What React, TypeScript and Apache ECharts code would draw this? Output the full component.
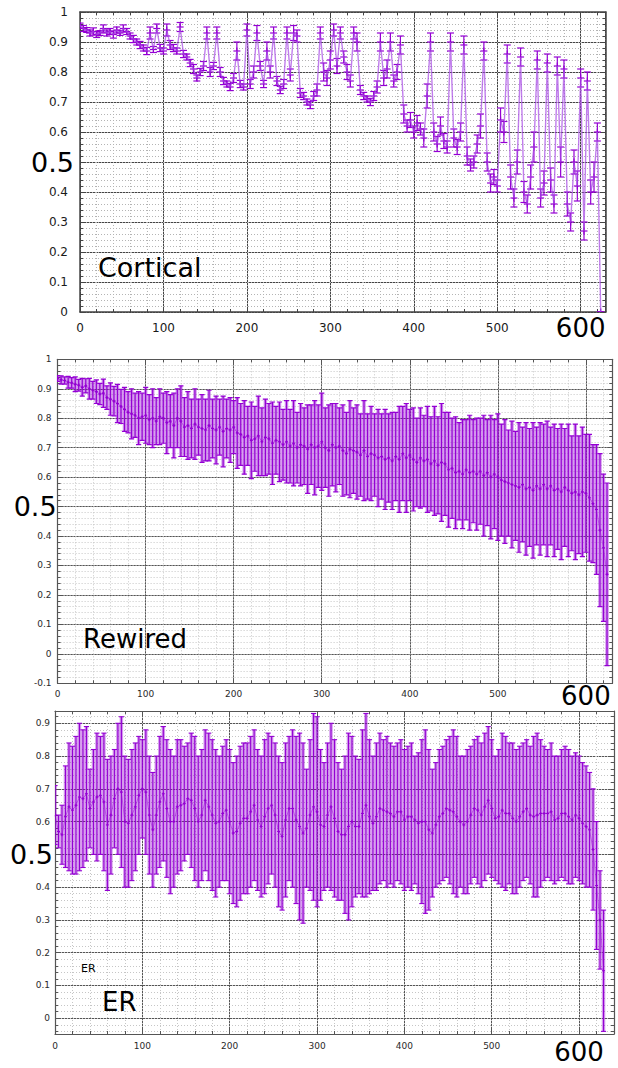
import { useEffect, useRef } from "react";
import * as echarts from "echarts";

// spacing between successive samples on the x axis
const STEP = 4;

// Cortical network: mean and error at x = 0, 4, 8, ...
const corticalMean = [
  0.955, 0.945, 0.94, 0.93, 0.935, 0.925, 0.93, 0.945, 0.93, 0.935,
  0.925, 0.94, 0.93, 0.945, 0.935, 0.92, 0.91, 0.9, 0.89, 0.88,
  0.87, 0.93, 0.875, 0.945, 0.88, 0.87, 0.94, 0.89, 0.88, 0.87,
  0.95, 0.86, 0.85, 0.83, 0.81, 0.78, 0.8, 0.82, 0.93, 0.8,
  0.82, 0.93, 0.8, 0.77, 0.76, 0.75, 0.78, 0.87, 0.76, 0.75,
  0.94, 0.76, 0.8, 0.93, 0.82, 0.76, 0.87, 0.8, 0.93, 0.77,
  0.74, 0.76, 0.93, 0.79, 0.93, 0.92, 0.73, 0.72, 0.7, 0.69,
  0.72, 0.74, 0.93, 0.8, 0.78, 0.84, 0.94, 0.82, 0.93, 0.85,
  0.8, 0.77, 0.93, 0.9, 0.74, 0.72, 0.71, 0.7, 0.72, 0.75,
  0.9, 0.78, 0.81, 0.9, 0.77, 0.8, 0.89, 0.66, 0.62, 0.64,
  0.6, 0.63, 0.61, 0.58, 0.72, 0.9, 0.6, 0.56, 0.62, 0.57,
  0.55, 0.9, 0.58, 0.55, 0.6, 0.89, 0.52, 0.49, 0.5, 0.56,
  0.62, 0.87, 0.5, 0.43, 0.45, 0.42, 0.64, 0.6, 0.86, 0.45,
  0.38, 0.5, 0.85, 0.4, 0.36, 0.45, 0.55, 0.84, 0.38, 0.43,
  0.83, 0.44, 0.36, 0.82, 0.5, 0.81, 0.36, 0.3, 0.5, 0.42,
  0.78, 0.27, 0.77, 0.4, 0.45, 0.6, 0.0,
];
const corticalErr = [
  0.008, 0.01, 0.008, 0.01, 0.012, 0.01, 0.008, 0.012, 0.01, 0.01,
  0.012, 0.01, 0.008, 0.012, 0.01, 0.01, 0.012, 0.01, 0.012, 0.01,
  0.012, 0.02, 0.01, 0.015, 0.012, 0.01, 0.02, 0.015, 0.012, 0.01,
  0.015, 0.012, 0.01, 0.012, 0.015, 0.01, 0.012, 0.015, 0.02, 0.015,
  0.012, 0.02, 0.015, 0.012, 0.01, 0.012, 0.015, 0.03, 0.012, 0.01,
  0.02, 0.015, 0.02, 0.025, 0.015, 0.012, 0.03, 0.02, 0.02, 0.015,
  0.012, 0.015, 0.02, 0.02, 0.025, 0.02, 0.015, 0.012, 0.01, 0.012,
  0.015, 0.02, 0.02, 0.03, 0.025, 0.03, 0.02, 0.025, 0.02, 0.02,
  0.025, 0.02, 0.02, 0.03, 0.015, 0.012, 0.01, 0.012, 0.015, 0.02,
  0.03, 0.025, 0.03, 0.03, 0.02, 0.025, 0.03, 0.03, 0.02, 0.025,
  0.02, 0.025, 0.02, 0.03, 0.04, 0.03, 0.03, 0.025, 0.03, 0.025,
  0.02, 0.03, 0.03, 0.025, 0.03, 0.03, 0.03, 0.02, 0.02, 0.03,
  0.04, 0.03, 0.03, 0.03, 0.025, 0.02, 0.04, 0.035, 0.03, 0.04,
  0.03, 0.04, 0.03, 0.035, 0.03, 0.04, 0.05, 0.03, 0.03, 0.04,
  0.03, 0.04, 0.03, 0.03, 0.05, 0.03, 0.04, 0.03, 0.04, 0.05,
  0.03, 0.03, 0.03, 0.04, 0.05, 0.03, 0.0,
];

// Rewired network
const rewiredMean = [
  0.935, 0.93, 0.928, 0.922, 0.92, 0.915, 0.912, 0.905, 0.91, 0.9,
  0.895, 0.89, 0.882, 0.885, 0.87, 0.865, 0.858, 0.85, 0.84, 0.83,
  0.82, 0.815, 0.81, 0.8, 0.805, 0.81, 0.795, 0.8, 0.79, 0.805,
  0.8, 0.785, 0.79, 0.775, 0.8, 0.79, 0.77, 0.775, 0.765, 0.78,
  0.77, 0.765, 0.76, 0.775, 0.765, 0.76, 0.77, 0.755, 0.765, 0.76,
  0.77, 0.75, 0.745, 0.735, 0.74, 0.725, 0.73, 0.74, 0.72, 0.735,
  0.73, 0.715, 0.725, 0.72, 0.71, 0.72, 0.705, 0.715, 0.7, 0.71,
  0.705, 0.695, 0.71, 0.7, 0.705, 0.72, 0.7, 0.69, 0.71, 0.7,
  0.705, 0.69, 0.68, 0.695, 0.69, 0.685, 0.675, 0.69, 0.67, 0.68,
  0.675, 0.665, 0.67, 0.66, 0.665, 0.655, 0.67, 0.66, 0.68, 0.665,
  0.675, 0.66, 0.65, 0.665, 0.655, 0.66, 0.645, 0.655, 0.64, 0.65,
  0.645, 0.625, 0.63, 0.615, 0.62, 0.61, 0.625, 0.615, 0.62, 0.61,
  0.62, 0.605, 0.615, 0.6, 0.61, 0.6, 0.59, 0.585, 0.58, 0.575,
  0.57, 0.565, 0.575, 0.56, 0.565, 0.555, 0.57, 0.56, 0.575, 0.56,
  0.57, 0.555, 0.56, 0.55, 0.565, 0.555, 0.545, 0.55, 0.54, 0.55,
  0.545, 0.53, 0.51, 0.49, 0.42, 0.36, 0.27,
];
const rewiredErr = [
  0.01, 0.014, 0.012, 0.02, 0.018, 0.025, 0.02, 0.03, 0.024, 0.035,
  0.03, 0.04, 0.036, 0.048, 0.04, 0.055, 0.05, 0.065, 0.058, 0.075,
  0.07, 0.085, 0.075, 0.09, 0.08, 0.095, 0.085, 0.1, 0.08, 0.095,
  0.085, 0.105, 0.09, 0.11, 0.1, 0.12, 0.1, 0.115, 0.1, 0.12,
  0.095, 0.115, 0.105, 0.12, 0.1, 0.115, 0.095, 0.12, 0.1, 0.11,
  0.09, 0.12, 0.105, 0.125, 0.1, 0.13, 0.11, 0.135, 0.115, 0.13,
  0.12, 0.14, 0.115, 0.135, 0.12, 0.14, 0.125, 0.145, 0.12, 0.14,
  0.13, 0.15, 0.135, 0.16, 0.14, 0.165, 0.135, 0.155, 0.14, 0.15,
  0.13, 0.155, 0.14, 0.165, 0.145, 0.16, 0.14, 0.17, 0.145, 0.16,
  0.14, 0.165, 0.145, 0.17, 0.15, 0.165, 0.15, 0.18, 0.16, 0.185,
  0.155, 0.175, 0.15, 0.17, 0.155, 0.18, 0.16, 0.185, 0.165, 0.2,
  0.175, 0.195, 0.17, 0.19, 0.165, 0.185, 0.17, 0.195, 0.175, 0.19,
  0.18, 0.205, 0.18, 0.21, 0.185, 0.215, 0.19, 0.21, 0.18, 0.215,
  0.185, 0.22, 0.195, 0.225, 0.2, 0.23, 0.2, 0.225, 0.205, 0.23,
  0.2, 0.225, 0.205, 0.23, 0.2, 0.225, 0.195, 0.23, 0.2, 0.22,
  0.2, 0.215, 0.2, 0.22, 0.26, 0.25, 0.31,
];

// Erdős–Rényi network
const erMean = [
  0.62, 0.57, 0.56, 0.615, 0.645, 0.635, 0.65, 0.675, 0.67, 0.685,
  0.64, 0.66, 0.675, 0.68, 0.66, 0.59, 0.62, 0.67, 0.7, 0.69,
  0.6, 0.595, 0.62, 0.645, 0.68, 0.7, 0.69, 0.62, 0.575, 0.62,
  0.66, 0.685, 0.64, 0.6, 0.6, 0.645, 0.65, 0.655, 0.67, 0.665,
  0.64, 0.6, 0.62, 0.665, 0.645, 0.62, 0.595, 0.6, 0.625, 0.635,
  0.6, 0.565, 0.57, 0.595, 0.61, 0.61, 0.63, 0.65, 0.605, 0.585,
  0.615, 0.64, 0.65, 0.62, 0.57, 0.555, 0.605, 0.64, 0.64, 0.605,
  0.585, 0.565, 0.58, 0.62, 0.645, 0.63, 0.59, 0.585, 0.62, 0.645,
  0.61, 0.57, 0.56, 0.56, 0.585, 0.6, 0.585, 0.585, 0.625, 0.65,
  0.615, 0.595, 0.615, 0.64, 0.635, 0.63, 0.625, 0.615, 0.63, 0.63,
  0.605, 0.615, 0.615, 0.605, 0.595, 0.6, 0.6, 0.575, 0.565, 0.59,
  0.615, 0.625, 0.64, 0.635, 0.63, 0.615, 0.6, 0.59, 0.6, 0.62,
  0.64, 0.635, 0.62, 0.645, 0.665, 0.64, 0.61, 0.615, 0.635, 0.625,
  0.625, 0.61, 0.6, 0.615, 0.63, 0.64, 0.62, 0.615, 0.62, 0.625,
  0.625, 0.625, 0.63, 0.605, 0.61, 0.625, 0.625, 0.615, 0.605, 0.62,
  0.61, 0.595, 0.585, 0.575, 0.515, 0.405, 0.3, 0.145,
];
const erErr = [
  0.09, 0.05, 0.09, 0.155, 0.195, 0.195, 0.21, 0.225, 0.21, 0.205,
  0.12, 0.16, 0.195, 0.18, 0.21, 0.2, 0.18, 0.15, 0.2, 0.23,
  0.2, 0.195, 0.2, 0.195, 0.18, 0.15, 0.19, 0.18, 0.175, 0.18,
  0.2, 0.205, 0.21, 0.22, 0.2, 0.205, 0.2, 0.175, 0.17, 0.205,
  0.22, 0.2, 0.2, 0.215, 0.225, 0.23, 0.225, 0.2, 0.205, 0.215,
  0.22, 0.215, 0.23, 0.235, 0.23, 0.23, 0.23, 0.23, 0.215, 0.215,
  0.235, 0.23, 0.21, 0.22, 0.23, 0.225, 0.235, 0.22, 0.24, 0.255,
  0.285, 0.275, 0.18, 0.23, 0.285, 0.29, 0.23, 0.195, 0.22, 0.255,
  0.24, 0.21, 0.2, 0.24, 0.285, 0.26, 0.215, 0.205, 0.255, 0.28,
  0.235, 0.205, 0.225, 0.23, 0.215, 0.23, 0.215, 0.215, 0.21, 0.22,
  0.215, 0.215, 0.225, 0.195, 0.215, 0.25, 0.28, 0.245, 0.195, 0.19,
  0.205, 0.205, 0.21, 0.225, 0.25, 0.245, 0.2, 0.21, 0.22, 0.21,
  0.21, 0.225, 0.22, 0.225, 0.225, 0.21, 0.19, 0.205, 0.235, 0.235,
  0.215, 0.23, 0.22, 0.215, 0.21, 0.21, 0.21, 0.245, 0.25, 0.225,
  0.205, 0.195, 0.21, 0.195, 0.19, 0.195, 0.205, 0.205, 0.195, 0.19,
  0.19, 0.185, 0.185, 0.175, 0.185, 0.195, 0.15, 0.185,
];

const panelTitles = ["Cortical", "Rewired", "ER"];
const BIG_X_TICK = 600;
const BIG_Y_TICK = 0.5;

const FONT = "DejaVu Sans";
const PURPLE = "#9400d3";

type Panel = {
  mean: number[];
  err: number[];
  grid: { left: number; top: number; width: number; height: number };
  xMax: number;
  yMin: number;
  yMax: number;
  yNice: boolean; // let the scale pick round ticks (min is not on a tick)
  fontSize: number;
  color: string;
  yMargin: number;
  yPad: number;
  xMargin: number;
  xPad: number;
  frame: string;
  frameW: number;
  major: string;
  minor: string;
  fill: string | null;
  cap: number;
  mark: number;
  barW: number;
  line: string;
  lineW: number;
};

const panels: Panel[] = [
  {
    mean: corticalMean, err: corticalErr,
    grid: { left: 80, top: 12, width: 525.7, height: 300 },
    xMax: 630, yMin: 0, yMax: 1, yNice: false,
    fontSize: 12, color: "#1a1a1a", yMargin: 6, yPad: 6, xMargin: 3, xPad: 7,
    frame: "#444", frameW: 1.5, major: "#444", minor: "#b4b4b4",
    fill: null, cap: 3.5, mark: 3.5, barW: 1.2,
    line: "rgba(165,70,228,0.7)", lineW: 1.4,
  },
  {
    mean: rewiredMean, err: rewiredErr,
    grid: { left: 57.6, top: 359.3, width: 554.7, height: 324 },
    xMax: 630, yMin: -0.1, yMax: 1, yNice: false,
    fontSize: 9, color: "#2a2a2a", yMargin: 1, yPad: 5, xMargin: 0, xPad: 6,
    frame: "#555", frameW: 1.2, major: "#555", minor: "#c6c6c6",
    fill: "rgba(148,0,211,0.42)", cap: 2.6, mark: 1.5, barW: 1.2,
    line: "rgba(148,0,211,0.6)", lineW: 0.8,
  },
  {
    mean: erMean, err: erErr,
    grid: { left: 55, top: 711, width: 559, height: 323 },
    xMax: 640, yMin: -0.048, yMax: 0.9375, yNice: true,
    fontSize: 9, color: "#2a2a2a", yMargin: 2, yPad: 3, xMargin: 5, xPad: 2,
    frame: "#555", frameW: 1.2, major: "#555", minor: "#c6c6c6",
    fill: "rgba(148,0,211,0.4)", cap: 2.6, mark: 1.5, barW: 1.1,
    line: "rgba(148,0,211,0.6)", lineW: 0.8,
  },
];

const fmt = (v: number) => String(Math.round(v * 100) / 100);

function axesFor(g: number, p: Panel) {
  const tickStyle = { color: p.frame, width: 1 };
  const xLabel = {
    margin: p.xMargin,
    showMaxLabel: false,
    formatter: (v: number) =>
      Math.abs(v - BIG_X_TICK) < 1e-6 ? `{big|${fmt(v)}}` : `{n|${fmt(v)}}`,
    rich: {
      big: { fontSize: 26, fontFamily: FONT, color: "#000" },
      n: { fontSize: p.fontSize, fontFamily: FONT, color: p.color, padding: [p.xPad, 0, 0, 0] },
    },
  };
  const yLabel = {
    margin: p.yMargin,
    showMinLabel: !p.yNice,
    showMaxLabel: !p.yNice,
    formatter: (v: number) =>
      Math.abs(v - BIG_Y_TICK) < 1e-6 ? `{big|${fmt(v)}}` : `{n|${fmt(v)}}`,
    rich: {
      big: { fontSize: 27, fontFamily: FONT, color: "#000" },
      n: { fontSize: p.fontSize, fontFamily: FONT, color: p.color, padding: [0, p.yPad, 0, 0] },
    },
  };
  const xBase = { type: "value", gridIndex: g, min: 0, max: p.xMax };
  const yBase = { type: "value", gridIndex: g, min: p.yMin, max: p.yMax };
  const yMajorTicks = p.yNice ? { splitNumber: 10 } : { interval: 0.1 };
  const yMinorTicks = p.yNice ? { splitNumber: 50 } : { interval: 0.02 };
  const line = { show: true, onZero: false, lineStyle: { color: p.frame, width: p.frameW } };
  const noLine = { show: false, onZero: false };
  const dotted = { show: true, lineStyle: { color: p.minor, width: 1, type: [1, 2] } };

  const xAxis = [
    {
      ...xBase, interval: 100, position: "bottom",
      axisLine: line,
      axisTick: { show: true, inside: true, length: 5, lineStyle: tickStyle },
      axisLabel: xLabel,
      splitLine: { show: true, lineStyle: { color: p.major, width: 1 } },
    },
    {
      ...xBase, interval: 20, position: "bottom",
      axisLine: noLine,
      axisTick: { show: true, inside: true, length: 3, lineStyle: tickStyle },
      axisLabel: { show: false },
      splitLine: dotted,
    },
    {
      ...xBase, interval: 100, position: "top",
      axisLine: line,
      axisTick: { show: true, inside: true, length: 5, lineStyle: tickStyle },
      axisLabel: { show: false },
      splitLine: { show: false },
    },
    {
      ...xBase, interval: 20, position: "top",
      axisLine: noLine,
      axisTick: { show: true, inside: true, length: 3, lineStyle: tickStyle },
      axisLabel: { show: false },
      splitLine: { show: false },
    },
  ];
  const yAxis = [
    {
      ...yBase, ...yMajorTicks, position: "left",
      axisLine: line,
      axisTick: { show: true, inside: true, length: 5, lineStyle: tickStyle },
      axisLabel: yLabel,
      splitLine: { show: true, lineStyle: { color: p.major, width: 1 } },
    },
    {
      ...yBase, ...yMinorTicks, position: "left",
      axisLine: noLine,
      axisTick: { show: true, inside: true, length: 3, lineStyle: tickStyle },
      axisLabel: { show: false },
      splitLine: dotted,
    },
    {
      ...yBase, ...yMajorTicks, position: "right",
      axisLine: line,
      axisTick: { show: true, inside: true, length: 5, lineStyle: tickStyle },
      axisLabel: { show: false },
      splitLine: { show: false },
    },
    {
      ...yBase, ...yMinorTicks, position: "right",
      axisLine: noLine,
      axisTick: { show: true, inside: true, length: 3, lineStyle: tickStyle },
      axisLabel: { show: false },
      splitLine: { show: false },
    },
  ];
  return { xAxis, yAxis };
}

function errorBars(p: Panel) {
  return (_params: any, api: any) => {
    const x = api.value(0);
    const m = api.value(1);
    const e = api.value(2);
    const top = api.coord([x, m + e]);
    const bot = api.coord([x, m - e]);
    const mid = api.coord([x, m]);
    const cx = mid[0];
    const children: any[] = [];
    if (p.fill) {
      const w = api.size([STEP, 0])[0];
      children.push({
        type: "rect",
        shape: { x: cx - w / 2, y: top[1], width: w, height: bot[1] - top[1] },
        style: { fill: p.fill },
      });
    }
    const stroke = { stroke: PURPLE, lineWidth: p.barW };
    children.push(
      { type: "line", shape: { x1: cx, y1: top[1], x2: cx, y2: bot[1] }, style: stroke },
      { type: "line", shape: { x1: cx - p.cap, y1: top[1], x2: cx + p.cap, y2: top[1] }, style: stroke },
      { type: "line", shape: { x1: cx - p.cap, y1: bot[1], x2: cx + p.cap, y2: bot[1] }, style: stroke },
      { type: "line", shape: { x1: cx - p.mark, y1: mid[1], x2: cx + p.mark, y2: mid[1] }, style: stroke },
      { type: "line", shape: { x1: cx, y1: mid[1] - p.mark, x2: cx, y2: mid[1] + p.mark }, style: stroke }
    );
    return { type: "group", children };
  };
}

function buildOption() {
  const grid: any[] = [];
  const xAxis: any[] = [];
  const yAxis: any[] = [];
  const series: any[] = [];
  panels.forEach((p, g) => {
    grid.push({ ...p.grid, containLabel: false, show: false });
    const a = axesFor(g, p);
    xAxis.push(...a.xAxis);
    yAxis.push(...a.yAxis);
    const pts = p.mean.map((m, i) => [i * STEP, m, p.err[i]]);
    series.push({
      type: "custom",
      xAxisIndex: g * 4,
      yAxisIndex: g * 4,
      clip: true,
      encode: { x: 0, y: 1 },
      data: pts,
      renderItem: errorBars(p),
      z: 2,
    });
    series.push({
      type: "line",
      xAxisIndex: g * 4,
      yAxisIndex: g * 4,
      data: pts.map((d) => [d[0], d[1]]),
      showSymbol: false,
      clip: true,
      lineStyle: { color: p.line, width: p.lineW },
      z: 3,
    });
  });

  const label = (text: string, x: number, y: number, size: number) => ({
    type: "text",
    x,
    y,
    z: 10,
    style: {
      text,
      fontSize: size,
      fontFamily: FONT,
      fill: "#000",
      align: "left",
      verticalAlign: "middle",
    },
  });

  return {
    animation: false,
    backgroundColor: "#fff",
    grid,
    xAxis,
    yAxis,
    series,
    graphic: [
      label(panelTitles[0], 98, 267.6, 27),
      label(panelTitles[1], 83, 638.6, 26),
      label(panelTitles[2], 81, 968.7, 11),
      label(panelTitles[2], 102, 1002.3, 26),
    ],
  };
}

export default function App() {
  const ref = useRef<HTMLDivElement>(null);
  useEffect(() => {
    if (!ref.current) return;
    const chart = echarts.init(ref.current, null, { renderer: "svg" });
    chart.setOption(buildOption() as any);
    return () => chart.dispose();
  }, []);
  return (
    <div
      ref={ref}
      style={{ position: "absolute", left: 0, top: 0, width: 618, height: 1068, background: "#fff" }}
    />
  );
}
